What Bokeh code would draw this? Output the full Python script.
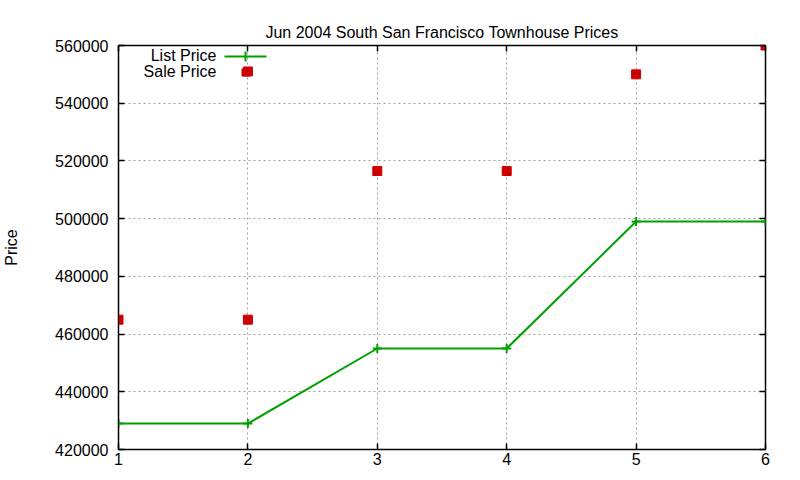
from bokeh.plotting import figure
from bokeh.embed import file_html
from bokeh.resources import INLINE
from bokeh.models import (ColumnDataSource, Range1d, FixedTicker, LinearAxis,
                          NumeralTickFormatter, CustomJSTickFormatter, Label, BoxAnnotation)

# data
months = [1, 2, 3, 4, 5, 6]
list_price = [429000, 429000, 455000, 455000, 499000, 499000]
sale_x = [1, 2, 2, 3, 4, 5, 6]
sale_price = [465000, 465000, 551000, 516500, 516500, 550000, 560000]
x_ticks = [1, 2, 3, 4, 5, 6]
y_ticks = [420000, 440000, 460000, 480000, 500000, 520000, 540000, 560000]

FONT = "Liberation Sans"
GREEN = "#00a000"
RED = "#cc0000"

p = figure(width=784, height=472, output_backend="svg", toolbar_location=None, tools="",
           x_range=Range1d(1, 6), y_range=Range1d(420000, 560000),
           title="Jun 2004 South San Francisco Townhouse Prices",
           min_border_left=112, min_border_right=19, min_border_top=45, min_border_bottom=23)

p.title.align = "center"
p.title.text_font = FONT
p.title.text_font_size = "16px"
p.title.text_font_style = "normal"
p.title.text_color = "#000000"

p.outline_line_color = "black"
p.outline_line_width = 1.5

for ax in (p.xaxis[0], p.yaxis[0]):
    ax.major_label_text_font = FONT
    ax.major_label_text_font_size = "16px"
    ax.major_label_text_color = "#000000"
    ax.major_tick_in = 6
    ax.major_tick_out = 0
    ax.minor_tick_in = 0
    ax.minor_tick_out = 0
    ax.axis_line_color = "black"
    ax.major_tick_line_color = "black"
    ax.major_tick_line_width = 1.5

p.xaxis.ticker = FixedTicker(ticks=x_ticks)
p.yaxis.ticker = FixedTicker(ticks=y_ticks)
p.yaxis.formatter = NumeralTickFormatter(format="0")
p.xaxis.major_label_standoff = 3
p.yaxis.major_label_standoff = 10
p.yaxis.axis_label = "Price"
p.yaxis.axis_label_text_font = FONT
p.yaxis.axis_label_text_font_size = "16px"
p.yaxis.axis_label_text_font_style = "normal"
p.yaxis.axis_label_text_color = "#000000"
p.yaxis.axis_label_standoff = 32

# mirrored ticks on top and right (no labels)
for side, ticks in (("above", x_ticks), ("right", y_ticks)):
    mirror = LinearAxis(ticker=FixedTicker(ticks=ticks),
                        formatter=CustomJSTickFormatter(code="return ''"),
                        major_label_standoff=0, major_tick_in=6, major_tick_out=0,
                        minor_tick_in=0, minor_tick_out=0, axis_line_color=None,
                        major_tick_line_color="black", major_tick_line_width=1.5)
    p.add_layout(mirror, side)

for g in (p.xgrid[0], p.ygrid[0]):
    g.grid_line_color = "#a0a0a0"
    g.grid_line_dash = "2 3"
    g.grid_line_width = 1

list_src = ColumnDataSource(data=dict(x=months, y=list_price))
sale_src = ColumnDataSource(data=dict(x=sale_x, y=sale_price))

p.line("x", "y", source=list_src, line_color=GREEN, line_width=2)
p.scatter("x", "y", source=list_src, marker="cross", size=9, line_color=GREEN, line_width=2)
p.scatter("x", "y", source=sale_src, marker="square", size=9, fill_color=RED, line_color=RED)

# gnuplot-style key: text first, then sample (screen units, y from frame bottom)
fh = 404
for i, name in enumerate(["List Price", "Sale Price"]):
    yy = fh - 10 - i * 16
    p.add_layout(Label(x=98, y=yy, x_units="screen", y_units="screen", text=name,
                       text_font=FONT, text_font_size="16px", text_align="right",
                       text_baseline="middle", text_color="#000000"))
p.add_layout(BoxAnnotation(left=106, right=148, bottom=fh - 12, top=fh - 10,
                           left_units="screen", right_units="screen",
                           bottom_units="screen", top_units="screen",
                           fill_color=GREEN, fill_alpha=1, line_color=None))
p.add_layout(BoxAnnotation(left=126, right=128, bottom=fh - 16, top=fh - 6,
                           left_units="screen", right_units="screen",
                           bottom_units="screen", top_units="screen",
                           fill_color=GREEN, fill_alpha=1, line_color=None))
p.add_layout(BoxAnnotation(left=123, right=131, bottom=fh - 31, top=fh - 23,
                           left_units="screen", right_units="screen",
                           bottom_units="screen", top_units="screen",
                           fill_color=RED, fill_alpha=1, line_color=None))

open("out.html", "w").write(file_html(p, INLINE))
